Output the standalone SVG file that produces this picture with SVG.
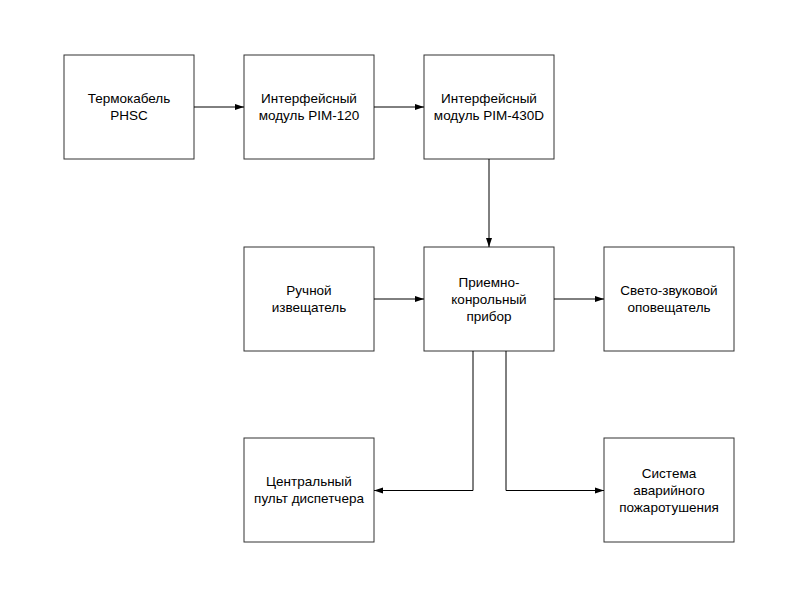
<svg xmlns="http://www.w3.org/2000/svg" width="800" height="600" viewBox="0 0 800 600">
<style>
.box{fill:#fff;stroke:#333;stroke-width:1}
.t{font-family:"Liberation Sans",Arial,sans-serif;font-size:13.5px;fill:#000;text-anchor:middle}
.c{fill:none;stroke:#000;stroke-width:1}
</style>
<defs>
<marker id="ah" markerWidth="9" markerHeight="7" refX="9" refY="3.5" orient="auto" markerUnits="userSpaceOnUse">
<path d="M0,0.5 L9,3.5 L0,6.5 Z" fill="#000"/>
</marker>
</defs>
<rect width="800" height="600" fill="#fff"/>
<g id="n1"><rect class="box" x="64" y="55" width="130" height="104"/><text class="t" x="129" y="103">Термокабель</text><text class="t" x="129" y="120">PHSC</text></g>
<g id="n2"><rect class="box" x="244" y="55" width="130" height="104"/><text class="t" x="309" y="103">Интерфейсный</text><text class="t" x="309" y="120">модуль PIM-120</text></g>
<g id="n3"><rect class="box" x="424" y="55" width="130" height="104"/><text class="t" x="489" y="103">Интерфейсный</text><text class="t" x="489" y="120">модуль PIM-430D</text></g>
<g id="n4"><rect class="box" x="244" y="247" width="130" height="104"/><text class="t" x="309" y="295">Ручной</text><text class="t" x="309" y="312">извещатель</text></g>
<g id="n5"><rect class="box" x="424" y="247" width="130" height="104"/><text class="t" x="489" y="287">Приемно-</text><text class="t" x="489" y="304">конрольный</text><text class="t" x="489" y="321">прибор</text></g>
<g id="n6"><rect class="box" x="604" y="247" width="130" height="104"/><text class="t" x="669" y="295">Свето-звуковой</text><text class="t" x="669" y="312">оповещатель</text></g>
<g id="n7"><rect class="box" x="244" y="438" width="130" height="104"/><text class="t" x="309" y="486">Центральный</text><text class="t" x="309" y="503">пульт диспетчера</text></g>
<g id="n8"><rect class="box" x="604" y="438" width="130" height="104"/><text class="t" x="669" y="478">Система</text><text class="t" x="669" y="495">аварийного</text><text class="t" x="669" y="512">пожаротушения</text></g>
<g id="connectors">
<path class="c" d="M194,107 H244" marker-end="url(#ah)"/>
<path class="c" d="M374,107 H424" marker-end="url(#ah)"/>
<path class="c" d="M489,159 V247" marker-end="url(#ah)"/>
<path class="c" d="M374,299 H424" marker-end="url(#ah)"/>
<path class="c" d="M554,299 H604" marker-end="url(#ah)"/>
<path class="c" d="M473,351 V490.5 H374" marker-end="url(#ah)"/>
<path class="c" d="M506,351 V490.5 H604" marker-end="url(#ah)"/>
</g>
</svg>
